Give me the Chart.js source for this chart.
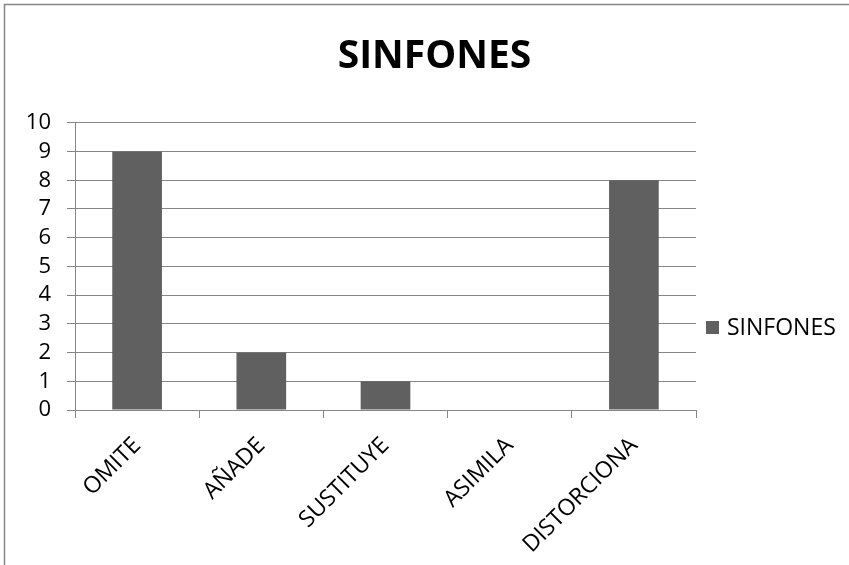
<!DOCTYPE html>
<html>
<head>
<meta charset="utf-8">
<script src="https://cdn.jsdelivr.net/npm/chart.js@4.4.0/dist/chart.umd.min.js"></script>
<style>
  html, body { margin: 0; padding: 0; overflow: hidden; background: #fff; }
  #wrap { position: relative; width: 869px; height: 650px; }
</style>
</head>
<body>
<div id="wrap"><canvas id="chart" width="869" height="650"></canvas></div>
<script>
// Data
const categories = ['OMITE', 'AÑADE', 'SUSTITUYE', 'ASIMILA', 'DISTORCIONA'];
const seriesName = 'SINFONES';
const sinfones = [9, 2, 1, 0, 8];
const yMin = 0;
const yMax = 10;
const yStep = 1;

const GRID = '#868686';
const BAR = '#606060';

Chart.defaults.font.family = "'Open Sans', sans-serif";
Chart.defaults.color = '#000';

// White background and the outer frame of the chart
const framePlugin = {
  id: 'frame',
  beforeDraw(chart) {
    const ctx = chart.ctx;
    ctx.save();
    ctx.fillStyle = '#fff';
    ctx.fillRect(0, 0, chart.width, chart.height);
    ctx.strokeStyle = GRID;
    ctx.lineWidth = 1.5;
    ctx.strokeRect(4.5, 4.5, chart.width, chart.height);
    ctx.restore();
  }
};

// Legend on the right, centred on the whole frame height
const sideLegend = {
  id: 'sideLegend',
  afterDraw(chart) {
    const ctx = chart.ctx;
    const ds = chart.data.datasets[0];
    const x = chart.chartArea.right + 10;
    const y = chart.height / 2 + 2;
    ctx.save();
    ctx.fillStyle = ds.backgroundColor;
    ctx.fillRect(x, y - 6, 13, 13);
    ctx.fillStyle = '#000';
    ctx.font = "23px 'Open Sans', sans-serif";
    ctx.textBaseline = 'middle';
    ctx.fillText(ds.label, x + 21, y + 1);
    ctx.restore();
  }
};

new Chart(document.getElementById('chart'), {
  type: 'bar',
  data: {
    labels: categories,
    datasets: [{
      label: seriesName,
      data: sinfones,
      backgroundColor: BAR,
      borderWidth: 0,
      categoryPercentage: 1,
      barPercentage: 0.4
    }]
  },
  options: {
    responsive: false,
    devicePixelRatio: 1,
    animation: false,
    scales: {
      y: {
        min: yMin,
        max: yMax,
        ticks: { stepSize: yStep, autoSkip: false, padding: 16, font: { size: 22 } },
        grid: { color: GRID, tickLength: 8 },
        border: { color: GRID },
        afterFit: (scale) => { scale.width = 75; }
      },
      // empty axis on the right, only to leave room for the legend
      yRight: {
        position: 'right',
        display: true,
        min: yMin,
        max: yMax,
        ticks: { display: false },
        grid: { display: false },
        border: { display: false },
        afterFit: (scale) => { scale.width = 173; }
      },
      x: {
        ticks: { autoSkip: false, minRotation: 45, maxRotation: 45, padding: 14, font: { size: 23 } },
        grid: { color: GRID, drawOnChartArea: false, tickLength: 8 },
        border: { color: GRID },
        afterFit: (scale) => { scale.height = 240; }
      }
    },
    plugins: {
      legend: { display: false },
      tooltip: { enabled: false },
      title: {
        display: true,
        text: seriesName,
        font: { size: 39, weight: 'bold' },
        padding: { top: 33, bottom: 43 }
      }
    }
  },
  plugins: [framePlugin, sideLegend]
});
</script>
</body>
</html>
